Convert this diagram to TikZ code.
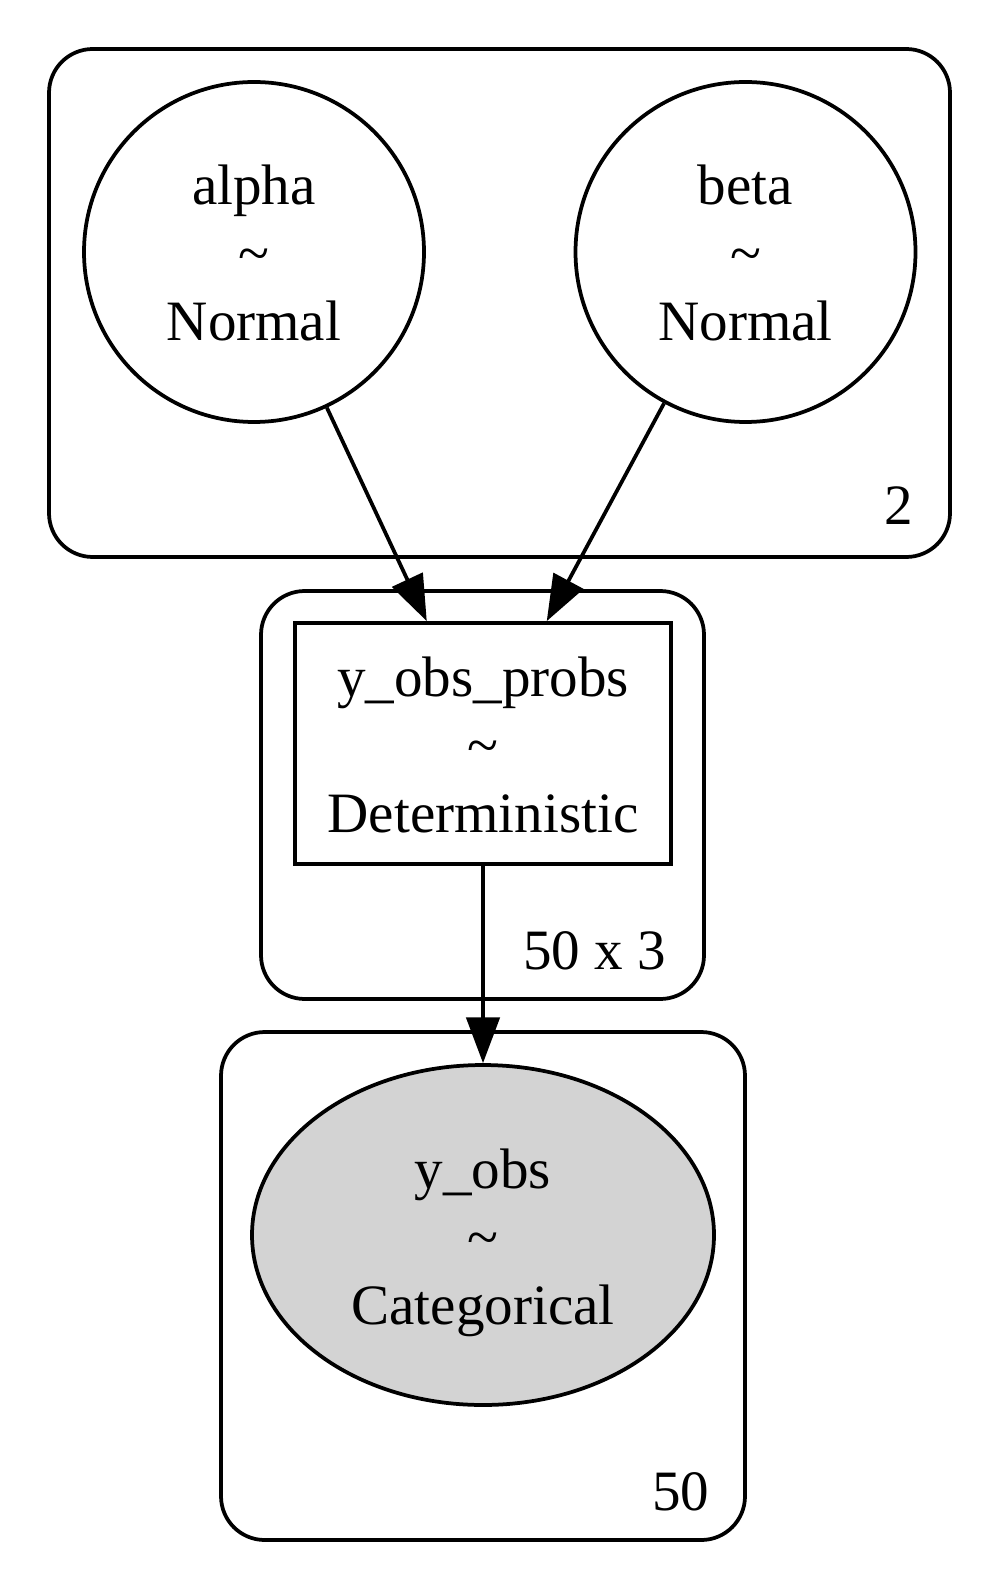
\documentclass[tikz,border=0pt]{standalone}
\usepackage{fontspec}
\setmainfont{Liberation Serif}
\usetikzlibrary{arrows.meta,shapes.geometric}
\definecolor{lightgrey}{HTML}{D3D3D3}
\begin{document}
\begin{tikzpicture}[x=0.24pt,y=-0.24pt,
  line width=0.9pt,
  cluster/.style={draw,rounded corners=10.5pt,inner sep=0pt,outer sep=0pt},
  rvcirc/.style={draw,circle,minimum size=81.6pt,inner sep=0pt},
  detbox/.style={draw,rectangle,minimum width=90.24pt,minimum height=57.84pt,inner sep=0pt},
  obsell/.style={draw,ellipse,fill=lightgrey,minimum width=110.88pt,minimum height=81.6pt,inner sep=0pt},
  lbl/.style={anchor=base,inner sep=0pt,font=\fontsize{13.7pt}{16.32pt}\selectfont},
  clbl/.style={anchor=base east,inner sep=0pt,font=\fontsize{13.7pt}{16.32pt}\selectfont},
  edge/.style={-{Triangle[length=11pt,width=8pt]}}]
\useasboundingbox (0,0) rectangle (1000,1590);
% clusters
\node[cluster,minimum width=216.24pt,minimum height=121.92pt] (ctop) at (499.5,303) {};
\node[cluster,minimum width=106.32pt,minimum height=97.92pt] (cmid) at (482.5,795) {};
\node[cluster,minimum width=125.76pt,minimum height=121.92pt] (cbot) at (483,1286) {};
\node[clbl] (ctop-l) at (915,525) {2};
\node[clbl] (cmid-l) at (668,969) {50 x 3};
\node[clbl] (cbot-l) at (711,1510) {50};
% nodes
\node[rvcirc] (alpha) at (254,252) {};
\node[rvcirc] (beta) at (745.5,252) {};
\node[detbox] (probs) at (483,743.5) {};
\node[obsell] (yobs) at (483,1235) {};
% texts
\node[lbl] (alpha-1) at (254,205) {alpha};
\node[lbl] (alpha-2) at (254,273) {\textasciitilde};
\node[lbl] (alpha-3) at (254,341) {Normal};
\node[lbl] (beta-1) at (745.5,205) {beta};
\node[lbl] (beta-2) at (745.5,273) {\textasciitilde};
\node[lbl] (beta-3) at (745.5,341) {Normal};
\node[lbl] (probs-1) at (483,696.5) {y\_obs\_probs};
\node[lbl] (probs-2) at (483,764.5) {\textasciitilde};
\node[lbl] (probs-3) at (483,832.5) {Deterministic};
\node[lbl] (yobs-1) at (483,1188) {y\_obs};
\node[lbl] (yobs-2) at (483,1256) {\textasciitilde};
\node[lbl] (yobs-3) at (483,1324) {Categorical};
% edges
\draw[edge] (alpha) -- ([xshift=-13.5pt]probs.north);
\draw[edge] (beta) -- ([xshift=15.3pt]probs.north);
\draw[edge] (probs.south) -- (yobs.north);
\end{tikzpicture}
\end{document}
